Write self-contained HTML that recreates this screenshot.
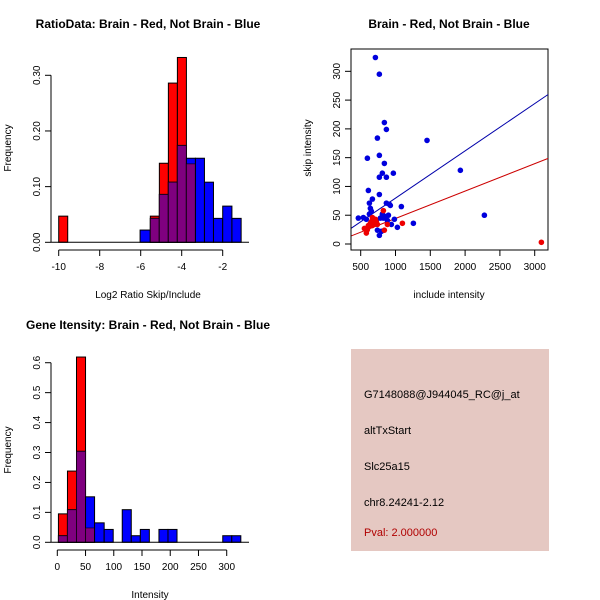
<!DOCTYPE html>
<html><head><meta charset="utf-8"><style>
html,body{margin:0;padding:0;background:#fff}
svg{display:block;font-family:"Liberation Sans",Arial,sans-serif}
</style></head><body>
<svg id="s" width="600" height="600" viewBox="0 0 600 600">
<rect width="600" height="600" fill="#fff"/>
<g>
<text x="148" y="28" text-anchor="middle" font-size="12" font-weight="bold">RatioData: Brain - Red, Not Brain - Blue</text>
<text x="148" y="298" text-anchor="middle" font-size="10">Log2 Ratio Skip/Include</text>
<text transform="translate(11,148) rotate(-90)" text-anchor="middle" font-size="10">Frequency</text>
<g id="p1"></g></g>
<g>
<text x="449" y="28" text-anchor="middle" font-size="12" font-weight="bold">Brain - Red, Not Brain - Blue</text>
<text x="449" y="298" text-anchor="middle" font-size="10">include intensity</text>
<text transform="translate(311,148) rotate(-90)" text-anchor="middle" font-size="10">skip intensity</text>
<g id="p2"></g></g>
<g>
<text x="148" y="329" text-anchor="middle" font-size="12" font-weight="bold">Gene Itensity: Brain - Red, Not Brain - Blue</text>
<text x="150" y="598" text-anchor="middle" font-size="10">Intensity</text>
<text transform="translate(11,450) rotate(-90)" text-anchor="middle" font-size="10">Frequency</text>
<g id="p3"></g></g>
<g>
<rect x="351" y="349" width="198" height="202" fill="#e5c8c2"/>
<text x="364" y="398" font-size="11">G7148088@J944045_RC@j_at</text>
<text x="364" y="434" font-size="11">altTxStart</text>
<text x="364" y="470" font-size="11">Slc25a15</text>
<text x="364" y="506" font-size="11">chr8.24241-2.12</text>
<text x="364" y="536" font-size="11" fill="#b00000">Pval: 2.000000</text>
</g>
</svg>
<script>
// Ratio histogram
const r1Breaks = [-10,-9.56];
const r1Red = [0.047];
const h1Breaks = [-6.03,-5.53,-5.09,-4.65,-4.21,-3.77,-3.33,-2.89,-2.45,-2.0,-1.55,-1.1];
const h1Red  = [0,0.047,0.142,0.286,0.332,0.141,0,0,0,0,0];
const h1Blue = [0.022,0.043,0.086,0.108,0.174,0.151,0.151,0.108,0.043,0.065,0.043];
const h1XTicks = [-10,-8,-6,-4,-2];
const h1YTicks = [0,0.1,0.2,0.3];
const h1YLabels = ["0.00","0.10","0.20","0.30"];
// Scatter
const blueX = [711,768,840,869,740,1453,596,768,840,811,768,869,969,1932,610,768,668,625,869,912,926,1084,639,653,625,811,466,538,581,783,826,854,898,984,2277,941,1257,1027,740,797,768,682,725,883];
const blueY = [324,295,211,199,184,180,149,154,140,123,116,116,123,128,93,86,78,71,71,69,67,65,62,57,52,52,45,46,43,45,45,48,50,43,50,34,36,29,24,22,15,43,41,41];
const redX = [553,581,596,610,639,653,668,682,711,725,740,826,840,883,1099,3096,625,668,696];
const redY = [27,19,25,32,36,39,46,41,43,38,34,58,24,34,36,3,31,32,36];
const blueFit = [-2.4,0.0821];
const redFit = [-3.3,0.0476];
const scXTicks = [500,1000,1500,2000,2500,3000];
const scYTicks = [0,50,100,150,200,250,300];
// Intensity histogram
const h3Breaks = [2,18,34,50,66,83,99,115,131,147,163,180,196,212,228,244,260,276,293,309,325];
const h3Red  = [0.095,0.238,0.619,0.048,0,0,0,0,0,0,0,0,0,0,0,0,0,0,0,0];
const h3Blue = [0.022,0.109,0.304,0.152,0.065,0.043,0,0.109,0.022,0.043,0,0.043,0.043,0,0,0,0,0,0.022,0.022];
const h3XTicks = [0,50,100,150,200,250,300];
const h3YTicks = [0,0.1,0.2,0.3,0.4,0.5,0.6];

const NS="http://www.w3.org/2000/svg";
function mk(p,tag,at){const e=document.createElementNS(NS,tag);for(const k in at)e.setAttribute(k,at[k]);p.appendChild(e);return e;}

function hist(g,name,breaks,red,blue,xs,ys,xt,yt,ylab,extra){
  const bx=(a,b)=>{};
  const X0=breaks[0];
  for(let i=0;i<breaks.length-1;i++){
    const x1=xs(breaks[i]),x2=xs(breaks[i+1]);
    const r=red[i]||0,b=blue?blue[i]||0:0,m=Math.min(r,b);
    if(r>0){const e=mk(g,'rect',{x:x1,y:ys(r),width:x2-x1,height:ys(0)-ys(r),fill:'#ff0000',stroke:'#000','stroke-width':1});
      
      }
    if(b>0){const e=mk(g,'rect',{x:x1,y:ys(b),width:x2-x1,height:ys(0)-ys(b),fill:'#0000ff',stroke:'#000','stroke-width':1});
      
      }
    if(m>0){const e=mk(g,'rect',{x:x1,y:ys(m),width:x2-x1,height:ys(0)-ys(m),fill:'#7f007f',stroke:'#000','stroke-width':1,'stroke-opacity':0.6});
      
      }
  }
}
function axes(g,name,xs,ys,xt,xl,yt,yl,xAxisY,yAxisX,xr,yr){
  const ax=mk(g,'g',{});
  
  
  mk(ax,'line',{x1:xs(xt[0]),x2:xs(xt[xt.length-1]),y1:xAxisY,y2:xAxisY,stroke:'#000'});
  xt.forEach((v,i)=>{mk(ax,'line',{x1:xs(v),x2:xs(v),y1:xAxisY,y2:xAxisY+6,stroke:'#000'});
    const t=mk(ax,'text',{x:xs(v),y:xAxisY+20,'text-anchor':'middle','font-size':10});t.textContent=xl[i];});
  const ay=mk(g,'g',{});
  
  
  mk(ay,'line',{x1:yAxisX,x2:yAxisX,y1:ys(yt[0]),y2:ys(yt[yt.length-1]),stroke:'#000'});
  yt.forEach((v,i)=>{mk(ay,'line',{x1:yAxisX-6,x2:yAxisX,y1:ys(v),y2:ys(v),stroke:'#000'});
    const t=mk(ay,'text',{transform:`translate(${yAxisX-11},${ys(v)}) rotate(-90)`,'text-anchor':'middle','font-size':10});t.textContent=yl[i];});
}
// Panel 1
{const g=document.getElementById('p1');
 const xs=v=>58.7+(v+10)*20.5, ys=v=>242.3-v*556.7;
 hist(g,'ratio',r1Breaks,r1Red,null,xs,ys);
 hist(g,'ratio',h1Breaks,h1Red,h1Blue,xs,ys);
 mk(g,'line',{x1:51,x2:249,y1:ys(0),y2:ys(0),stroke:'#000'});
 axes(g,'ratio',xs,ys,h1XTicks,h1XTicks.map(String),h1YTicks,h1YLabels,250,51);}
// Panel 2
{const g=document.getElementById('p2');
 const xs=v=>360.7+(v-500)*0.0696, ys=v=>244-v*0.5756;
 const clip=mk(g,'clipPath',{id:'c2'});mk(clip,'rect',{x:351,y:49,width:197,height:201});
 mk(g,'rect',{x:351,y:49,width:197,height:201,fill:'none',stroke:'#000'});
 const lb=mk(g,'line',{x1:xs(300),y1:ys(blueFit[0]+blueFit[1]*300),x2:xs(3300),y2:ys(blueFit[0]+blueFit[1]*3300),stroke:'#0000aa','clip-path':'url(#c2)'});
 
 
 const lr=mk(g,'line',{x1:xs(300),y1:ys(redFit[0]+redFit[1]*300),x2:xs(3300),y2:ys(redFit[0]+redFit[1]*3300),stroke:'#cc0000','clip-path':'url(#c2)'});
 
 
 blueX.forEach((x,i)=>{const c=mk(g,'circle',{cx:xs(x),cy:ys(blueY[i]),r:2.8,fill:'#0000dd'});
   
   });
 redX.forEach((x,i)=>{const c=mk(g,'circle',{cx:xs(x),cy:ys(redY[i]),r:2.8,fill:'#ee0000'});
   
   });
 axes(g,'scatter',xs,ys,scXTicks,scXTicks.map(String),scYTicks,scYTicks.map(String),250,351);}
// Panel 3
{const g=document.getElementById('p3');
 const xs=v=>57.3+v*0.5647, ys=v=>542.3-v*299.3;
 hist(g,'intensity',h3Breaks,h3Red,h3Blue,xs,ys);
 mk(g,'line',{x1:51,x2:249,y1:ys(0),y2:ys(0),stroke:'#000'});
 axes(g,'intensity',xs,ys,h3XTicks,h3XTicks.map(String),h3YTicks,h3YTicks.map(v=>v.toFixed(1)),550,51);}
</script>
</body></html>
